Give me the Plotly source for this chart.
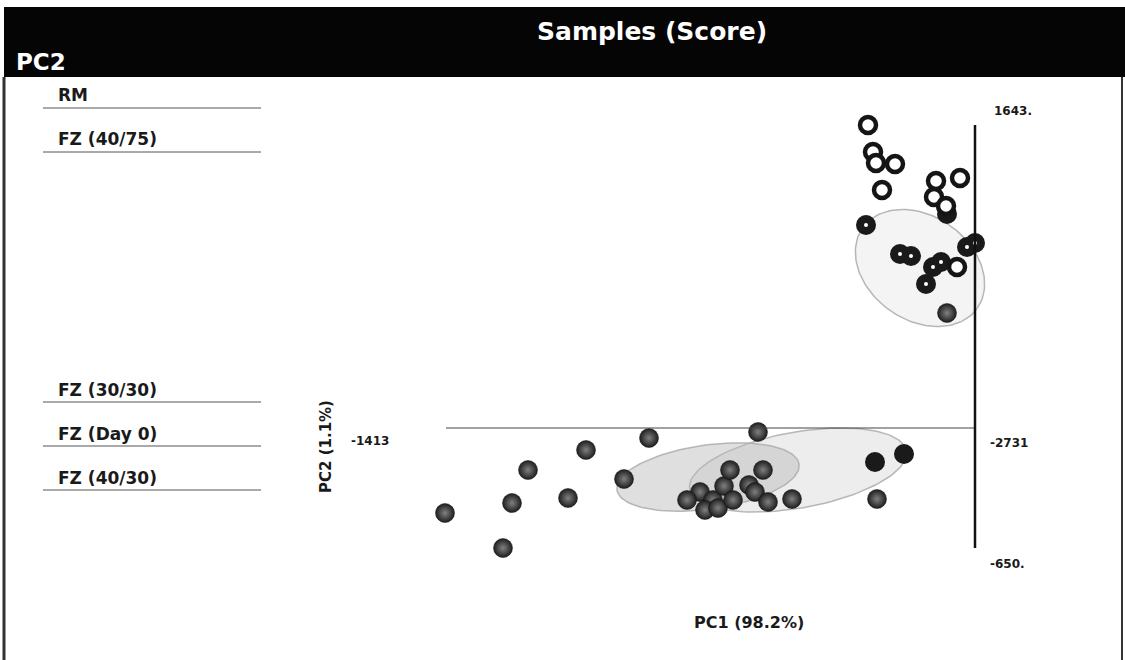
import numpy as np
import plotly.graph_objects as go

# ---------------- data (PCA scores, arbitrary score units) ----------------
group_names = ["RM", "FZ (40/75)", "FZ (30/30)", "FZ (Day 0)", "FZ (40/30)"]

rm_pc1 = [-535, -510, -495, -400, -465, -195, -75, -205, -145, -90]
rm_pc2 = [1515, 1380, 1325, 1320, 1190, 1235, 1250, 1155, 1110, 805]

fz4075_pc1 = [-140, -545, -375, -320, -210, -170, -245, -40, 0]
fz4075_pc2 = [1070, 1015, 870, 860, 805, 830, 720, 905, 925]

fz3030_pc1 = [-1755, -1375, -1440, -1310, -1350, -1285, -1255, -1210]
fz3030_pc2 = [-255, -320, -360, -360, -410, -400, -290, -360]

fzday0_pc1 = [-2650, -2360, -2315, -2235, -2035, -1945, -1630]
fzday0_pc2 = [-425, -600, -375, -210, -350, -110, -50]

fz4030_pc1 = [-1085, -1225, -1060, -1130, -1100, -1035, -915, -490, -140]
fz4030_pc2 = [-20, -210, -210, -285, -320, -370, -355, -355, 575]

fz4030_flat_pc1 = [-500, -355]
fz4030_flat_pc2 = [-170, -130]

# confidence ellipses: (center pc1, center pc2, semi-axis a, semi-axis b, angle deg)
ellipse_upper = (-275, 800, 350, 260, -35)
ellipse_left = (-1335, -245, 460, 160, 8)
ellipse_right = (-885, -210, 550, 190, 10)

axis_corner_labels = ["1643.", "-2731", "-650.", "-1413"]
x_title = "PC1 (98.2%)"
y_title = "PC2 (1.1%)"
chart_title = "Samples (Score)"
header_left = "PC2"

W, H = 1125, 660
FONT = "DejaVu Sans"


def ellipse_xy(p, n=120):
    cx, cy, a, b, ang = p
    t = np.linspace(0, 2 * np.pi, n)
    th = np.deg2rad(ang)
    x = cx + a * np.cos(t) * np.cos(th) - b * np.sin(t) * np.sin(th)
    y = cy + a * np.cos(t) * np.sin(th) + b * np.sin(t) * np.cos(th)
    return x, y


def px(x):
    return x / W


def py(y):
    return 1 - y / H


fig = go.Figure()

# ellipses
for p, fillc in [(ellipse_upper, "rgba(220,220,220,0.3)"),
                 (ellipse_right, "rgba(215,215,215,0.45)"),
                 (ellipse_left, "rgba(185,185,185,0.45)")]:
    ex, ey = ellipse_xy(p)
    fig.add_trace(go.Scatter(x=ex, y=ey, mode="lines", fill="toself",
                             fillcolor=fillc,
                             line=dict(color="rgba(175,175,175,0.9)", width=1.5),
                             hoverinfo="skip", showlegend=False))

sphere = dict(size=19, color="#1e1e1e",
              gradient=dict(type="radial", color="#808080"),
              line=dict(width=0.5, color="#111"))

for name, xs, ys in [(group_names[3], fzday0_pc1, fzday0_pc2),
                     (group_names[2], fz3030_pc1, fz3030_pc2),
                     (group_names[4], fz4030_pc1, fz4030_pc2)]:
    fig.add_trace(go.Scatter(x=xs, y=ys, mode="markers", name=name,
                             marker=sphere, showlegend=False))

fig.add_trace(go.Scatter(x=fz4030_flat_pc1, y=fz4030_flat_pc2, mode="markers",
                         name=group_names[4],
                         marker=dict(size=20, color="#1a1a1a", line=dict(width=0)),
                         showlegend=False))

# FZ (40/75): dark filled with white centre dot
fig.add_trace(go.Scatter(x=fz4075_pc1, y=fz4075_pc2, mode="markers",
                         name=group_names[1],
                         marker=dict(size=20, color="#1a1a1a", line=dict(width=0)),
                         showlegend=False))
fig.add_trace(go.Scatter(x=fz4075_pc1, y=fz4075_pc2, mode="markers",
                         marker=dict(size=4, color="white", line=dict(width=0)),
                         hoverinfo="skip", showlegend=False))

# RM: open rings
fig.add_trace(go.Scatter(x=rm_pc1, y=rm_pc2, mode="markers", name=group_names[0],
                         marker=dict(size=16, color="white",
                                     line=dict(width=4.5, color="#151515")),
                         showlegend=False))

shapes = []
# header bar
shapes.append(dict(type="rect", xref="paper", yref="paper",
                   x0=px(4), x1=1, y0=py(77), y1=py(7),
                   fillcolor="#050505", line=dict(width=0), layer="above"))
# frame sides
shapes.append(dict(type="line", xref="paper", yref="paper",
                   x0=px(4), x1=px(4), y0=0, y1=py(77),
                   line=dict(color="#333", width=3)))
shapes.append(dict(type="line", xref="paper", yref="paper",
                   x0=px(1122), x1=px(1122), y0=0, y1=py(77),
                   line=dict(color="#333", width=2)))
# legend underlines
for yy in [108, 152, 402, 446, 490]:
    shapes.append(dict(type="line", xref="paper", yref="paper",
                       x0=px(43), x1=px(261), y0=py(yy), y1=py(yy),
                       line=dict(color="#555", width=1)))
# score axes (drawn at PC = 0)
shapes.append(dict(type="line", xref="x", yref="y",
                   x0=min(fzday0_pc1) + 5, x1=0, y0=0, y1=0,
                   line=dict(color="#444", width=1.2)))
shapes.append(dict(type="line", xref="x", yref="y",
                   x0=0, x1=0, y0=max(rm_pc2), y1=min(fzday0_pc2),
                   line=dict(color="#111", width=2.5)))

ann = []


def add_text(text, x, y, size, color="#1a1a1a", xanchor="center", angle=0):
    ann.append(dict(text="<b>%s</b>" % text, x=px(x), y=py(y),
                    xref="paper", yref="paper", showarrow=False,
                    xanchor=xanchor, yanchor="middle", textangle=angle,
                    font=dict(family=FONT, size=size, color=color)))


add_text(chart_title, 652, 32, 25, color="white")
add_text(header_left, 14, 62, 23, color="white", xanchor="left")
for name, yy in zip(group_names, [95, 139, 390, 434, 478]):
    add_text(name, 56, yy, 17, xanchor="left")
for lab, xx, yy in zip(axis_corner_labels, [992, 988, 988, 349], [111, 443, 564, 441]):
    add_text(lab, xx, yy, 12, xanchor="left")
add_text(x_title, 749, 622, 16)
add_text(y_title, 326, 447, 15, angle=-90)

fig.update_layout(
    width=W, height=H, margin=dict(l=0, r=0, t=0, b=0),
    paper_bgcolor="white", plot_bgcolor="white",
    xaxis=dict(range=[-4875, 750], visible=False, fixedrange=True),
    yaxis=dict(range=[-1160, 2140], visible=False, fixedrange=True),
    shapes=shapes, annotations=ann, showlegend=False,
)

fig.write_html("out.html")
